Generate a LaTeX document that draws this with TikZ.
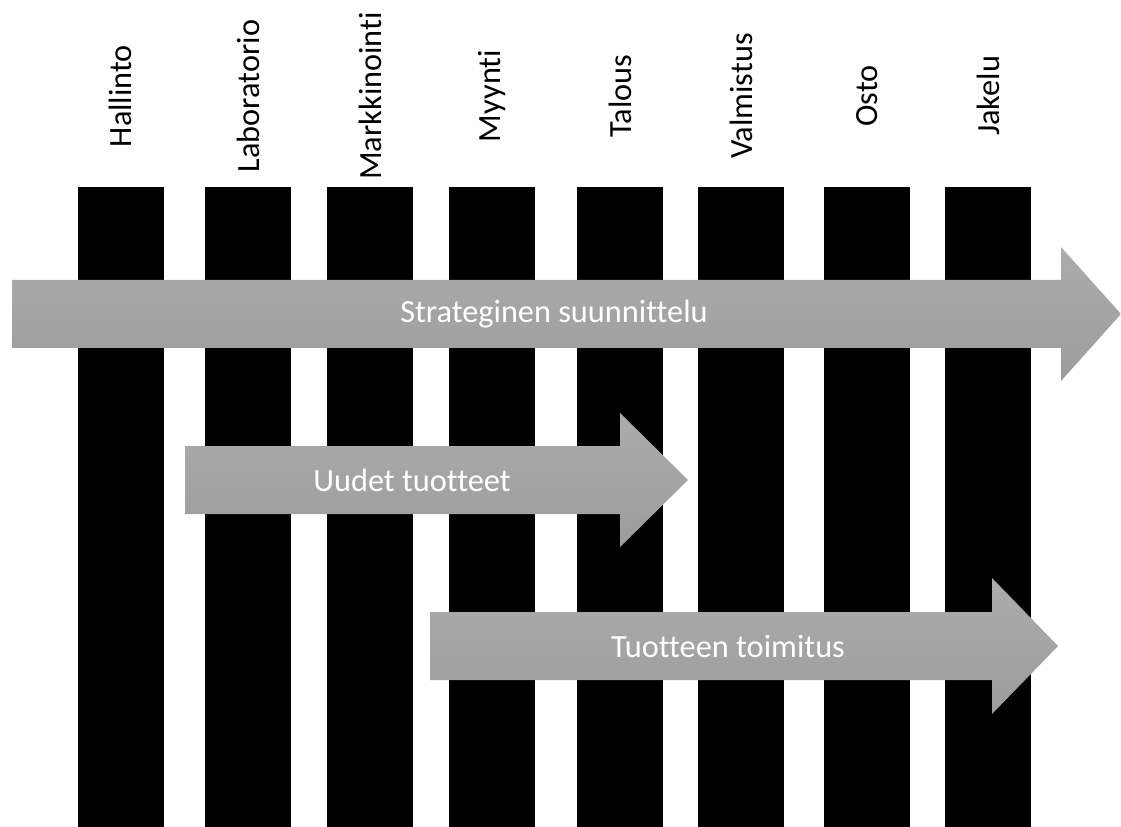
\documentclass[tikz,border=0pt]{standalone}
\usepackage{fontspec}
\setmainfont[Ligatures=NoCommon]{Carlito}
\usetikzlibrary{positioning}
\definecolor{arrowTop}{RGB}{172,172,172}
\definecolor{arrowBottom}{RGB}{156,156,156}

\begin{document}
\begin{tikzpicture}[
    every node/.style={font=\fontsize{23}{27}\selectfont},
    bar/.style={rectangle, fill=black, inner sep=0pt, minimum width=2.15cm, minimum height=16cm, anchor=north},
    dept/.style={rotate=90, inner sep=0pt, text=black},
    bigarrow/.style={top color=arrowTop, bottom color=arrowBottom, draw=none},
    arrowtext/.style={text=white, inner sep=0pt}
]
    \useasboundingbox (0,0) rectangle (28.025,-20.675);

% -------------------------
% Bars (one per department)
% -------------------------
    \node[bar] (hallinto) at (3.0125,-4.675) {};
    \node[bar] (laboratorio) at (6.2,-4.675) {};
    \node[bar] (markkinointi) at (9.25,-4.675) {};
    \node[bar] (myynti) at (12.3,-4.675) {};
    \node[bar] (talous) at (15.5,-4.675) {};
    \node[bar] (valmistus) at (18.525,-4.675) {};
    \node[bar] (osto) at (21.675,-4.675) {};
    \node[bar] (jakelu) at (24.7,-4.675) {};

% -------------------------
% Department labels
% -------------------------
    \node[dept] (hallintoLabel) at (3.0125,-2.4) {Hallinto};
    \node[dept] (laboratorioLabel) at (6.2,-2.4) {Laboratorio};
    \node[dept] (markkinointiLabel) at (9.25,-2.4) {Markkinointi};
    \node[dept] (myyntiLabel) at (12.3,-2.4) {Myynti};
    \node[dept] (talousLabel) at (15.5,-2.4) {Talous};
    \node[dept] (valmistusLabel) at (18.525,-2.4) {Valmistus};
    \node[dept] (ostoLabel) at (21.675,-2.4) {Osto};
    \node[dept] (jakeluLabel) at (24.7,-2.4) {Jakelu};

% -------------------------
% Process arrows
% -------------------------
    % Strategic planning runs across every department
    \shade[bigarrow] (0.3,-7.0) -- (26.525,-7.0) -- (26.525,-6.175) -- (28.025,-7.85)
        -- (26.525,-9.525) -- (26.525,-8.7) -- (0.3,-8.7) -- cycle;
    \node[arrowtext] (strategia) at (13.85,-7.85) {Strateginen suunnittelu};

    % New products: laboratory to finance
    \shade[bigarrow] (4.625,-11.15) -- (15.5,-11.15) -- (15.5,-10.325) -- (17.2,-12.0)
        -- (15.5,-13.675) -- (15.5,-12.85) -- (4.625,-12.85) -- cycle;
    \node[arrowtext] (uudet) at (10.3,-12.0) {Uudet tuotteet};

    % Delivery: sales to distribution
    \shade[bigarrow] (10.75,-15.3) -- (24.8,-15.3) -- (24.8,-14.45) -- (26.45,-16.15)
        -- (24.8,-17.85) -- (24.8,-17.0) -- (10.75,-17.0) -- cycle;
    \node[arrowtext] (toimitus) at (18.2,-16.15) {Tuotteen toimitus};
\end{tikzpicture}
\end{document}
